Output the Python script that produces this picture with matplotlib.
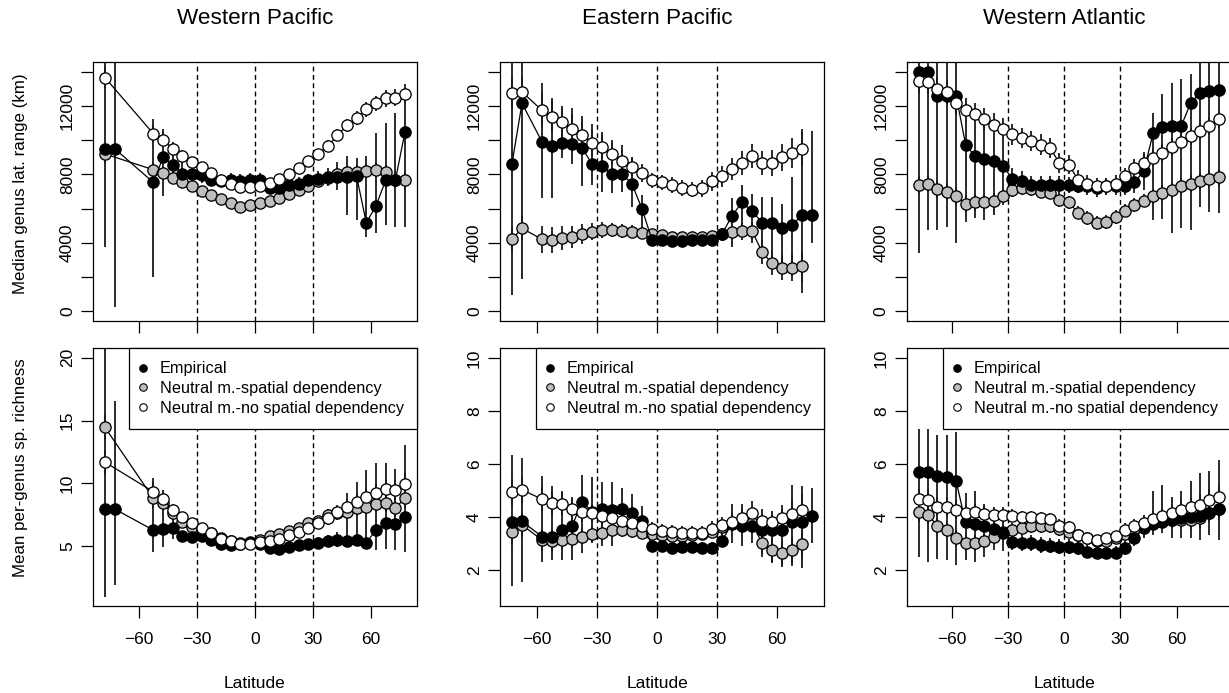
import numpy as np
import matplotlib
matplotlib.use("Agg")
import matplotlib.pyplot as plt
from matplotlib.lines import Line2D
from matplotlib.transforms import blended_transform_factory

plt.rcParams['font.family'] = ['Liberation Sans', 'DejaVu Sans']

nan = np.nan

# 5-degree latitudinal bands (band centres)
lat = [-77.5, -72.5, -67.5, -62.5, -57.5, -52.5, -47.5, -42.5, -37.5, -32.5,
       -27.5, -22.5, -17.5, -12.5, -7.5, -2.5, 2.5, 7.5, 12.5, 17.5, 22.5,
       27.5, 32.5, 37.5, 42.5, 47.5, 52.5, 57.5, 62.5, 67.5, 72.5, 77.5, 82.5]

regions = ['Western Pacific', 'Eastern Pacific', 'Western Atlantic']
series_names = ['Empirical', 'Neutral m.-spatial dependency',
                'Neutral m.-no spatial dependency']

# ---- median genus latitudinal range (km) ----
wp_rng_emp = [9500, 9500, nan, nan, nan, 7530, 9000, 8570, 8040, 8040, 7980, 7690, 7630, 7690, 7590, 7690, 7690,
              7200, 7200, 7390, 7450, 7650, 7750, 7820, 7820, 7820, 7880, 5180, 6160, 7650, 7650, 10480, nan]
wp_rng_emp_lo = [3780, 250, nan, nan, nan, 2020, 6710, 7650, 7350, 7550, 7500, 7300, 7250, 7300, 7200, 7300, 7300,
                 6850, 6850, 7050, 7100, 7300, 7350, 7350, 7100, 5630, 5340, 4360, 4560, 5050, 4950, 4950, nan]
wp_rng_emp_hi = [16000, 16000, nan, nan, nan, 11210, 10620, 9400, 8800, 8600, 8500, 8100, 8050, 8100, 8000, 8100, 8100,
                 7600, 7600, 7800, 7850, 8050, 8200, 8350, 8700, 9060, 8960, 9060, 10430, 11010, 11600, 13070, nan]
wp_rng_sp = [9190, nan, nan, nan, nan, 8270, 8080, 7790, 7530, 7300, 7020, 6810, 6550, 6320, 6120, 6220, 6320,
             6440, 6610, 6870, 7100, 7340, 7590, 7790, 8040, 8120, 8120, 8180, 8270, 8120, 7700, 7650, nan]
wp_rng_sp_err = [500, nan, nan, nan, nan, 450, 350, 300, 250, 250, 250, 250, 250, 250, 250, 250, 250,
                 250, 250, 250, 250, 250, 300, 300, 350, 350, 400, 400, 450, 450, 500, 550, nan]
wp_rng_nsp = [13650, nan, nan, nan, nan, 10370, 10030, 9490, 9060, 8720, 8430, 8080, 7690, 7450, 7260, 7260, 7340,
              7490, 7750, 8040, 8370, 8760, 9190, 9640, 10270, 10860, 11310, 11800, 12150, 12440, 12480, 12710, nan]
wp_rng_nsp_err = [600, nan, nan, nan, nan, 500, 450, 400, 350, 300, 300, 300, 300, 300, 300, 300, 300,
                  300, 300, 300, 300, 300, 300, 350, 350, 400, 400, 450, 450, 500, 500, 550, nan]

ep_rng_emp = [nan, 8630, 12150, nan, 9900, 9640, 9840, 9780, 9550, 8610, 8470, 8040, 8040, 7430, 5990, 4170, 4170,
              4110, 4110, 4170, 4170, 4170, 4520, 5580, 6360, 5870, 5180, 5180, 4850, 5050, 5610, 5610, nan]
ep_rng_emp_lo = [nan, 940, 1920, nan, 6610, 6610, 8950, 8600, 7300, 7400, 6990, 6900, 6980, 6100, 4400, 3900, 3900,
                 3850, 3850, 3900, 3900, 3900, 4200, 3780, 4560, 3970, 3190, 2890, 2290, 2040, 1060, 3970, nan]
ep_rng_emp_hi = [nan, 16000, 16000, nan, 13360, 12470, 11800, 11900, 11380, 10920, 10470, 9980, 9690, 8990, 6800, 4450, 4450,
                 4400, 4400, 4450, 4450, 4450, 4850, 6600, 7400, 6840, 6700, 6700, 6260, 7860, 10620, 10530, nan]
ep_rng_sp = [nan, 4210, 4850, nan, 4210, 4170, 4260, 4360, 4520, 4660, 4750, 4750, 4690, 4660, 4600, 4520, 4460,
             4360, 4320, 4320, 4320, 4400, 4520, 4620, 4690, 4690, 3480, 2800, 2560, 2560, 2640, nan, nan]
ep_rng_sp_err = [nan, 700, 700, nan, 800, 750, 700, 650, 600, 500, 450, 400, 400, 400, 350, 300, 300,
                 300, 300, 300, 300, 300, 350, 450, 500, 550, 700, 700, 750, 800, 900, nan, nan]
ep_rng_nsp = [nan, 12730, 12810, nan, 11740, 11360, 11070, 10660, 10270, 9840, 9600, 9210, 8800, 8430, 8080, 7650, 7530,
              7390, 7200, 7100, 7200, 7590, 7880, 8310, 8670, 9060, 8670, 8670, 9000, 9250, 9490, nan, nan]
ep_rng_nsp_err = [nan, 900, 900, nan, 1000, 900, 900, 850, 800, 750, 700, 650, 600, 550, 500, 450, 450,
                  450, 450, 450, 500, 550, 600, 650, 700, 700, 700, 750, 800, 900, 1000, nan, nan]

wa_rng_emp = [13950, 13950, 12580, 12580, 12580, 9740, 9060, 8900, 8760, 8470, 7730, 7590, 7390, 7390, 7390, 7390, 7360,
              7340, 7300, 7200, 7300, 7300, 7300, 7530, 8180, 10390, 10760, 10820, 10820, 12150, 12770, 12870, 12910]
wa_rng_emp_lo = [3420, 4750, 4750, 4950, 4010, 5240, 5440, 5340, 5630, 6220, 7000, 7000, 6900, 6900, 6900, 6900, 6900,
                 6900, 6800, 6700, 6800, 6800, 6800, 6900, 7100, 5340, 5380, 4560, 4850, 4750, 6120, 5830, 5730]
wa_rng_emp_hi = [16000, 16000, 16000, 16000, 16000, 11110, 10820, 10820, 10230, 10030, 8400, 8200, 7900, 7900, 7900, 7900, 7850,
                 7800, 7750, 7700, 7800, 7800, 7800, 8200, 9300, 11600, 12680, 13360, 13550, 13850, 16000, 16000, 16000]
wa_rng_sp = [7390, 7450, 7140, 7000, 6750, 6280, 6360, 6360, 6470, 6750, 7060, 7200, 7140, 7000, 6940, 6510, 6360,
             5770, 5440, 5180, 5240, 5500, 5890, 6220, 6470, 6710, 6910, 7060, 7300, 7450, 7590, 7730, 7820]
wa_rng_sp_err = [500, 500, 500, 500, 500, 500, 500, 450, 450, 400, 400, 400, 400, 400, 400, 400, 400,
                 400, 400, 400, 400, 400, 400, 400, 400, 450, 450, 450, 500, 500, 500, 500, 500]
wa_rng_nsp = [13460, 13400, 13010, 12810, 12190, 11740, 11500, 11250, 10910, 10660, 10330, 10130, 9940, 9740, 9550, 8670, 8570,
              7690, 7450, 7300, 7300, 7450, 7880, 8370, 8670, 8960, 9250, 9600, 9900, 10230, 10520, 10820, 11210]
wa_rng_nsp_err = [700, 700, 700, 700, 700, 700, 650, 650, 650, 650, 600, 600, 600, 600, 600, 600, 550,
                  550, 500, 500, 500, 500, 500, 500, 500, 500, 500, 500, 500, 500, 500, 500, 500]

# ---- mean per-genus species richness ----
wp_ric_emp = [7.96, 7.96, nan, nan, nan, 6.28, 6.41, 6.47, 5.80, 5.75, 5.80, 5.48, 5.21, 5.13, 5.21, 5.29, 5.21,
              4.89, 4.81, 4.95, 5.08, 5.21, 5.29, 5.43, 5.53, 5.43, 5.53, 5.29, 6.28, 6.81, 6.76, 7.29, nan]
wp_ric_emp_lo = [0.95, 1.88, nan, nan, nan, 4.55, 4.90, 5.60, 5.40, 5.35, 5.40, 5.10, 4.85, 4.80, 4.85, 4.90, 4.85,
                 4.55, 4.50, 4.60, 4.70, 4.80, 4.85, 4.95, 4.95, 4.95, 5.21, 5.08, 4.68, 4.81, 4.68, 4.55, nan]
wp_ric_emp_hi = [25.0, 16.54, nan, nan, nan, 10.41, 9.50, 7.60, 6.20, 6.15, 6.20, 5.85, 5.60, 5.50, 5.60, 5.70, 5.60,
                 5.25, 5.15, 5.30, 5.45, 5.60, 5.75, 5.90, 6.10, 9.21, 10.14, 11.07, 11.66, 11.66, 11.13, 13.07, nan]
wp_ric_sp = [14.46, nan, nan, nan, nan, 8.81, 8.41, 7.61, 6.95, 6.55, 6.33, 6.07, 5.69, 5.43, 5.27, 5.35, 5.53,
             5.80, 5.96, 6.23, 6.49, 6.81, 7.03, 7.48, 7.61, 7.74, 8.01, 8.14, 8.36, 8.46, 8.01, 8.86, nan]
wp_ric_sp_err = [1.0, nan, nan, nan, nan, 0.8, 0.6, 0.5, 0.4, 0.35, 0.3, 0.3, 0.25, 0.25, 0.25, 0.25, 0.25,
                 0.3, 0.3, 0.3, 0.35, 0.35, 0.4, 0.45, 0.5, 0.55, 0.6, 0.6, 0.65, 0.7, 0.7, 0.8, nan]
wp_ric_nsp = [11.69, nan, nan, nan, nan, 9.34, 8.73, 7.88, 7.34, 6.87, 6.49, 6.07, 5.61, 5.43, 5.21, 5.21, 5.35,
              5.43, 5.61, 5.88, 6.15, 6.49, 6.87, 7.21, 7.74, 8.14, 8.54, 8.94, 9.26, 9.53, 9.48, 9.96, nan]
wp_ric_nsp_err = [1.0, nan, nan, nan, nan, 0.8, 0.6, 0.5, 0.4, 0.35, 0.3, 0.3, 0.25, 0.25, 0.25, 0.25, 0.25,
                  0.3, 0.3, 0.3, 0.35, 0.4, 0.45, 0.5, 0.55, 0.6, 0.65, 0.7, 0.7, 0.75, 0.8, 0.9, nan]

ep_ric_emp = [nan, 3.79, 3.83, nan, 3.26, 3.23, 3.51, 3.64, 4.58, 4.20, 4.29, 4.27, 4.29, 4.14, 3.86, 2.91, 2.91,
              2.82, 2.86, 2.88, 2.82, 2.82, 3.11, 3.75, 3.65, 3.64, 3.51, 3.51, 3.51, 3.79, 3.79, 4.05, nan]
ep_ric_emp_lo = [nan, 1.40, 1.56, nan, 2.31, 2.37, 2.37, 2.37, 2.63, 3.00, 2.90, 2.90, 3.40, 3.30, 3.30, 2.70, 2.70,
                 2.60, 2.65, 2.65, 2.60, 2.60, 2.85, 3.00, 2.90, 3.00, 2.50, 2.25, 2.10, 2.13, 2.06, 3.00, nan]
ep_ric_emp_hi = [nan, 6.35, 6.22, nan, 5.53, 5.15, 4.96, 4.77, 5.59, 5.50, 5.30, 5.30, 5.10, 4.85, 4.40, 3.15, 3.15,
                 3.05, 3.10, 3.10, 3.05, 3.05, 3.40, 4.50, 4.50, 4.30, 4.10, 4.10, 4.30, 5.21, 5.15, 5.10, nan]
ep_ric_sp = [nan, 3.45, 3.70, nan, 3.13, 3.11, 3.13, 3.16, 3.26, 3.36, 3.41, 3.51, 3.51, 3.47, 3.41, 3.36, 3.32,
             3.28, 3.28, 3.32, 3.36, 3.45, 3.61, 3.76, 3.79, 3.76, 3.01, 2.76, 2.65, 2.76, 2.97, nan, nan]
ep_ric_sp_err = [nan, 0.5, 0.45, nan, 0.4, 0.4, 0.35, 0.35, 0.3, 0.3, 0.3, 0.25, 0.25, 0.25, 0.25, 0.2, 0.2,
                 0.2, 0.2, 0.2, 0.2, 0.25, 0.25, 0.3, 0.3, 0.35, 0.4, 0.45, 0.45, 0.5, 0.55, nan, nan]
ep_ric_nsp = [nan, 4.93, 5.02, nan, 4.67, 4.52, 4.49, 4.29, 4.20, 4.14, 4.04, 3.95, 3.85, 3.76, 3.64, 3.54, 3.47,
              3.45, 3.39, 3.39, 3.41, 3.54, 3.70, 3.79, 3.95, 4.14, 3.83, 3.79, 3.95, 4.12, 4.27, nan, nan]
ep_ric_nsp_err = [nan, 0.5, 0.5, nan, 0.45, 0.45, 0.4, 0.4, 0.4, 0.35, 0.35, 0.3, 0.3, 0.3, 0.3, 0.25, 0.25,
                  0.25, 0.25, 0.25, 0.25, 0.3, 0.3, 0.35, 0.4, 0.45, 0.45, 0.45, 0.5, 0.55, 0.6, nan, nan]

wa_ric_emp = [5.68, 5.68, 5.55, 5.50, 5.34, 3.79, 3.72, 3.64, 3.54, 3.39, 3.07, 3.01, 3.01, 2.94, 2.91, 2.88, 2.88,
              2.82, 2.69, 2.63, 2.65, 2.65, 2.82, 3.20, 3.57, 3.75, 3.82, 3.89, 3.95, 4.00, 4.05, 4.15, 4.30]
wa_ric_emp_lo = [2.50, 2.31, 2.40, 2.37, 2.19, 2.37, 2.31, 2.50, 2.75, 2.70, 2.75, 2.70, 2.70, 2.65, 2.65, 2.60, 2.60,
                 2.55, 2.45, 2.40, 2.40, 2.40, 2.55, 2.90, 3.20, 3.32, 3.38, 3.20, 3.20, 3.20, 3.13, 3.32, 3.13]
wa_ric_emp_hi = [7.30, 7.30, 7.10, 7.10, 7.20, 4.90, 4.96, 4.50, 4.30, 4.20, 3.40, 3.30, 3.30, 3.25, 3.20, 3.15, 3.15,
                 3.10, 2.95, 2.90, 2.90, 2.90, 3.10, 3.60, 4.00, 4.96, 5.21, 4.77, 4.96, 5.34, 5.65, 5.72, 6.16]
wa_ric_sp = [4.17, 4.08, 3.66, 3.49, 3.20, 3.01, 3.03, 3.11, 3.26, 3.45, 3.51, 3.57, 3.64, 3.66, 3.64, 3.54, 3.45,
             3.32, 3.20, 3.11, 3.11, 3.20, 3.36, 3.54, 3.70, 3.79, 3.83, 3.89, 3.89, 3.89, 3.95, 4.14, 4.29]
wa_ric_sp_err = [0.35, 0.35, 0.3, 0.3, 0.3, 0.3, 0.3, 0.25, 0.25, 0.25, 0.25, 0.25, 0.25, 0.25, 0.25, 0.25, 0.2,
                 0.2, 0.2, 0.2, 0.2, 0.2, 0.25, 0.25, 0.25, 0.3, 0.3, 0.3, 0.3, 0.35, 0.35, 0.35, 0.4]
wa_ric_nsp = [4.67, 4.64, 4.39, 4.39, 4.27, 4.14, 4.17, 4.12, 4.08, 4.08, 4.04, 3.99, 3.99, 3.95, 3.91, 3.66, 3.61,
              3.32, 3.20, 3.13, 3.20, 3.28, 3.51, 3.66, 3.76, 3.91, 4.04, 4.14, 4.27, 4.37, 4.46, 4.64, 4.77]
wa_ric_nsp_err = [0.4, 0.4, 0.35, 0.35, 0.35, 0.3, 0.3, 0.3, 0.3, 0.3, 0.25, 0.25, 0.25, 0.25, 0.25, 0.25, 0.25,
                  0.2, 0.2, 0.2, 0.2, 0.2, 0.25, 0.25, 0.3, 0.3, 0.3, 0.35, 0.35, 0.35, 0.4, 0.4, 0.45]

range_panels = [
    (wp_rng_emp, wp_rng_emp_lo, wp_rng_emp_hi, wp_rng_sp, wp_rng_sp_err, wp_rng_nsp, wp_rng_nsp_err),
    (ep_rng_emp, ep_rng_emp_lo, ep_rng_emp_hi, ep_rng_sp, ep_rng_sp_err, ep_rng_nsp, ep_rng_nsp_err),
    (wa_rng_emp, wa_rng_emp_lo, wa_rng_emp_hi, wa_rng_sp, wa_rng_sp_err, wa_rng_nsp, wa_rng_nsp_err),
]
rich_panels = [
    (wp_ric_emp, wp_ric_emp_lo, wp_ric_emp_hi, wp_ric_sp, wp_ric_sp_err, wp_ric_nsp, wp_ric_nsp_err),
    (ep_ric_emp, ep_ric_emp_lo, ep_ric_emp_hi, ep_ric_sp, ep_ric_sp_err, ep_ric_nsp, ep_ric_nsp_err),
    (wa_ric_emp, wa_ric_emp_lo, wa_ric_emp_hi, wa_ric_sp, wa_ric_sp_err, wa_ric_nsp, wa_ric_nsp_err),
]

GREY = '#bebebe'
W, H = 1229, 693


def draw_panel(ax, emp, emp_lo, emp_hi, sp, sp_err, nsp, nsp_err):
    x = np.array(lat)
    emp, emp_lo, emp_hi = np.array(emp), np.array(emp_lo), np.array(emp_hi)
    sp, sp_err = np.array(sp), np.array(sp_err)
    nsp, nsp_err = np.array(nsp), np.array(nsp_err)

    # vertical bars behind the points
    m = ~np.isnan(emp_lo)
    ax.vlines(x[m], emp_lo[m], emp_hi[m], color='#1a1a1a', lw=1.3, zorder=2)
    for y, e in [(sp, sp_err), (nsp, nsp_err)]:
        m = ~np.isnan(y) & ~np.isnan(e)
        ax.vlines(x[m], y[m] - e[m], y[m] + e[m], color='#1a1a1a', lw=1.3, zorder=2)

    for k, (y, fc) in enumerate([(sp, GREY), (emp, 'black'), (nsp, 'white')]):
        m = ~np.isnan(y)
        ax.plot(x[m], y[m], '-', color='black', lw=0.9, zorder=3 + 2 * k)
        ax.plot(x[m], y[m], 'o', mfc=fc, mec='black', ms=8.1, mew=0.95,
                ls='none', zorder=4 + 2 * k)

    for v in (-30, 0, 30):
        ax.axvline(v, color='black', lw=1.0, ls=(0, (3.5, 2.5)), zorder=1)

    for s in ax.spines.values():
        s.set_linewidth(0.9)
    ax.set_xticks([-60, -30, 0, 30, 60])
    ax.tick_params(direction='out', length=8.3, width=0.9, labelsize=12.5)
    ax.tick_params(axis='y', pad=4.6)
    ax.tick_params(axis='x', pad=10.5)


fig = plt.figure(figsize=(W / 100, H / 100), dpi=100)

lefts = [93, 500, 906.7]
xlims = [(-83.7, 83.7), (-78.5, 83.5), (-83.9, 88.9)]
rich_ylims = [(0.24, 20.76), (0.64, 10.36), (0.64, 10.36)]
rich_ticks = [[5, 10, 15, 20], [2, 4, 6, 8, 10], [2, 4, 6, 8, 10]]

legend_handles = [
    Line2D([], [], ls='none', marker='o', ms=5.4, mfc='black', mec='black', mew=0.8),
    Line2D([], [], ls='none', marker='o', ms=5.4, mfc=GREY, mec='black', mew=0.8),
    Line2D([], [], ls='none', marker='o', ms=5.4, mfc='white', mec='black', mew=0.8),
]

for c in range(3):
    left = lefts[c] / W
    width = 324 / W

    ax_top = fig.add_axes([left, 1 - 321 / H, width, 259 / H])
    draw_panel(ax_top, *range_panels[c])
    ax_top.set_xlim(*xlims[c])
    ax_top.set_ylim(-560, 14560)
    ax_top.set_yticks(range(0, 14001, 2000))
    ax_top.set_yticklabels(['0', '', '4000', '', '8000', '', '12000', ''],
                           rotation=90, va='center')
    ax_top.tick_params(axis='x', labelbottom=False)

    ax_bot = fig.add_axes([left, 1 - 606 / H, width, 257.7 / H])
    draw_panel(ax_bot, *rich_panels[c])
    ax_bot.set_xlim(*xlims[c])
    ax_bot.set_ylim(*rich_ylims[c])
    ax_bot.set_yticks(rich_ticks[c])
    ax_bot.set_yticklabels([str(t) for t in rich_ticks[c]], rotation=90, va='center')

    leg = ax_bot.legend(legend_handles, series_names, loc='upper right',
                        bbox_to_anchor=(1, 1), borderaxespad=0, fancybox=False,
                        edgecolor='black', framealpha=1, fontsize=11.7,
                        handlelength=0.1, handletextpad=0.98, labelspacing=0.3,
                        borderpad=0.8)
    leg.get_frame().set_linewidth(0.9)
    leg.set_zorder(20)

    # titles and x labels are centred on the equator of each panel
    tr = blended_transform_factory(ax_top.transData, fig.transFigure)
    ax_top.text(0, 1 - 19 / H, regions[c], transform=tr, ha='center', va='center',
                fontsize=16.2)
    trb = blended_transform_factory(ax_bot.transData, fig.transFigure)
    ax_bot.text(0, 1 - 683 / H, 'Latitude', transform=trb, ha='center', va='center',
                fontsize=12.5)

fig.text(21 / W, 1 - 183.5 / H, 'Median genus lat. range (km)', rotation=90,
         ha='center', va='center', fontsize=12.2)
fig.text(21 / W, 1 - 468 / H, 'Mean per-genus sp. richness', rotation=90,
         ha='center', va='center', fontsize=12.2)

fig.savefig('out.png', dpi=100)
